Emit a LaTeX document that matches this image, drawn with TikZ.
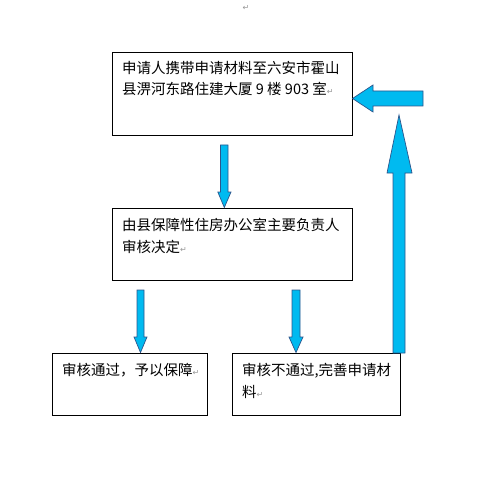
\documentclass[tikz,border=0pt]{standalone}
\usepackage{fontspec}
\setmainfont{Noto Sans CJK SC}
\newfontfamily\markfont{DejaVu Sans}
\definecolor{arrfill}{RGB}{0,186,240}
\definecolor{arrline}{RGB}{45,85,140}
\definecolor{pmark}{RGB}{150,150,150}
\newcommand{\parmark}{{\markfont\fontsize{8}{8}\selectfont\textcolor{pmark}{↵}}}
\tikzset{
  box/.style={draw=black, line width=0.8pt, inner sep=0pt, anchor=north west},
  txt/.style={anchor=north west, inner sep=0pt, align=left, font=\fontsize{14.5}{21.5}\selectfont},
  barrow/.style={fill=arrfill, draw=arrline, line width=0.7pt, line join=miter}
}
\begin{document}
\begin{tikzpicture}[x=1pt,y=-1pt]
\useasboundingbox (0,0) rectangle (480,497);
% boxes
\node[box, minimum width=240pt, minimum height=83pt] (b1) at (112,52) {};
\node[box, minimum width=240pt, minimum height=72pt] (b2) at (112,208) {};
\node[box, minimum width=155pt, minimum height=62pt] (b3) at (52,353) {};
\node[box, minimum width=168pt, minimum height=62pt] (b4) at (232,353) {};
% texts
\node[txt] (t1) at (122,61) {申请人携带申请材料至六安市霍山\\县淠河东路住建大厦 9 楼 903 室\parmark};
\node[txt] (t2) at (122,218) {由县保障性住房办公室主要负责人\\审核决定\parmark};
\node[txt] (t3) at (62,363) {审核通过，予以保障\parmark};
\node[txt] (t4) at (242,363) {审核不通过,完善申请材\\料\parmark};
\node[inner sep=0pt] (top) at (246,8) {\parmark};
% down arrows
\draw[barrow] (220.5,145) -- (228,145) -- (228,192) -- (231,192) -- (224.3,207.5) -- (217.8,192) -- (220.5,192) -- cycle;
\draw[barrow] (137,290) -- (144,290) -- (144,337) -- (147,337) -- (140.5,352.5) -- (134,337) -- (137,337) -- cycle;
\draw[barrow] (292,290) -- (300,290) -- (300,337) -- (303,337) -- (296,352.5) -- (289,337) -- (292,337) -- cycle;
% up arrow
\draw[barrow] (393,353) -- (405,353) -- (405,173) -- (412,173) -- (399,115) -- (387,173) -- (393,173) -- cycle;
% left arrow
\draw[barrow] (423,91) -- (423,106) -- (373,106) -- (373,112) -- (352.5,98.5) -- (373,85) -- (373,91) -- cycle;
\end{tikzpicture}
\end{document}
